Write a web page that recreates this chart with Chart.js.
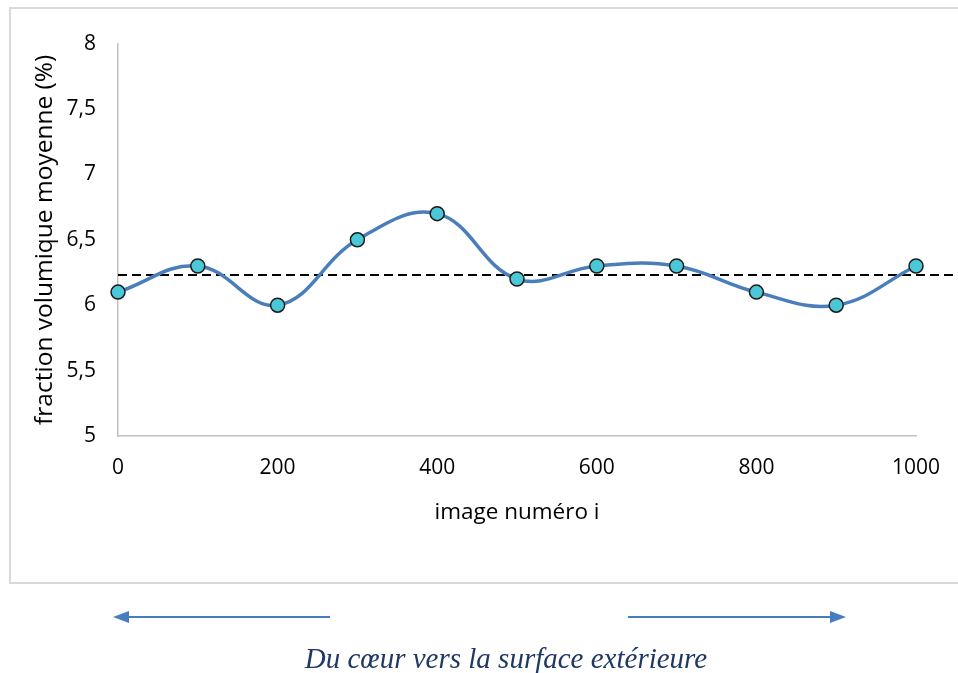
<!DOCTYPE html>
<html>
<head>
<meta charset="utf-8">
<script src="https://cdn.jsdelivr.net/npm/chart.js@4/dist/chart.umd.min.js"></script>
<style>
  html, body { margin: 0; padding: 0; background: #fff; overflow: hidden; width: 958px; height: 673px; }
  #box { position: absolute; left: 9px; top: 7px; width: 960px; height: 573px; border: 2px solid #d9d9d9; }
  #box canvas { display: block; }
  #arrows { position: absolute; left: 0; top: 0; }
  #caption { position: absolute; left: 206px; width: 600px; top: 643px; text-align: center;
    font-family: "Liberation Serif", "DejaVu Serif", serif; font-style: italic; font-size: 29px;
    line-height: 30px; color: #1f3864; }
</style>
</head>
<body>
<div id="box"><canvas id="chart" width="960" height="573"></canvas></div>
<svg id="arrows" width="958" height="673">
  <line x1="330" y1="617" x2="126" y2="617" stroke="#467dbe" stroke-width="2"/>
  <polygon points="113,617 129,611 129,623" fill="#467dbe"/>
  <line x1="628" y1="617" x2="833" y2="617" stroke="#467dbe" stroke-width="2"/>
  <polygon points="846,617 830,611 830,623" fill="#467dbe"/>
</svg>
<div id="caption">Du cœur vers la surface extérieure</div>
<script>
// values
var imageNum = [0, 100, 200, 300, 400, 500, 600, 700, 800, 900, 1000];
var fraction = [6.1, 6.3, 6.0, 6.5, 6.7, 6.2, 6.3, 6.3, 6.1, 6.0, 6.3];
var moyenne = 6.23;
var meanSpan = [0, 1060];

var fontName = '"Open Sans", Lato, sans-serif';

var points = imageNum.map(function(x, i) { return {x: x, y: fraction[i]}; });
var meanLine = meanSpan.map(function(x) { return {x: x, y: moyenne}; });

var ctx = document.getElementById('chart').getContext('2d');
var chart = new Chart(ctx, {
    type: 'line',
    data: {
        datasets: [
            {
                data: meanLine,
                borderColor: '#000',
                borderWidth: 2,
                borderDash: [9, 5],
                pointRadius: 0,
                tension: 0,
                clip: false,
                order: 2
            },
            {
                data: points,
                borderColor: '#4a7ebb',
                borderWidth: 3.5,
                tension: 0.4,
                pointRadius: 7,
                pointBackgroundColor: '#4bc8d8',
                pointBorderColor: '#1a1a1a',
                pointBorderWidth: 1.5,
                clip: false,
                order: 1
            }
        ]
    },
    options: {
        responsive: false,
        animation: false,
        layout: { padding: { left: 0, top: 29, right: 55, bottom: 0 } },
        plugins: { legend: { display: false }, tooltip: { enabled: false } },
        scales: {
            x: {
                type: 'linear',
                min: 0,
                max: 1000,
                grid: { display: false, drawTicks: false },
                border: { display: true, color: '#c0c0c0', width: 1.5 },
                ticks: { stepSize: 200, padding: 19, color: '#000', font: { family: fontName, size: 21 },
                    callback: function(v) { return String(v); } },
                title: { display: true, text: 'image numéro i', color: '#000',
                    font: { family: fontName, size: 22.5 }, padding: { top: 0, bottom: 56 } },
                afterFit: function(scale) { scale.height = 146; }
            },
            y: {
                min: 5,
                max: 8,
                grid: { display: false, drawTicks: false },
                border: { display: true, color: '#c0c0c0', width: 1.5 },
                ticks: { stepSize: 0.5, padding: 22, color: '#000', font: { family: fontName, size: 21 },
                    callback: function(v) { return String(v).replace('.', ','); } },
                title: { display: true, text: 'fraction volumique moyenne (%)', color: '#000',
                    font: { family: fontName, size: 24.5 }, padding: { top: 19, bottom: 0 } },
                afterFit: function(scale) { scale.width = 107; }
            }
        }
    }
});
</script>
</body>
</html>
